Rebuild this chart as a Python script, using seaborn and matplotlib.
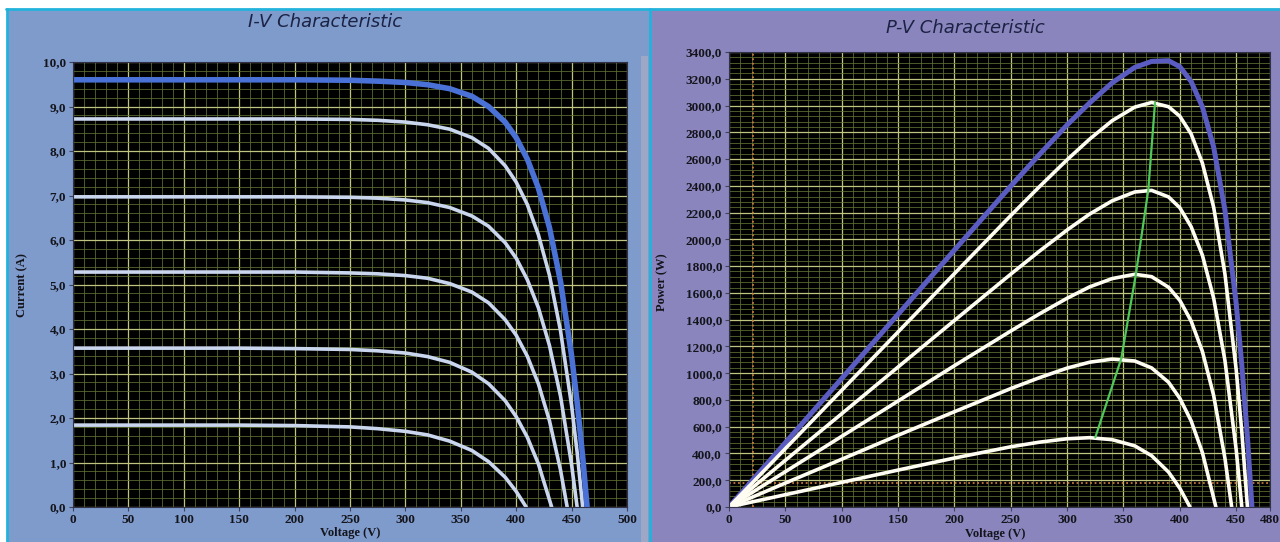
import matplotlib
matplotlib.use("Agg")
import matplotlib.pyplot as plt
import seaborn as sns
import pandas as pd
from matplotlib.patches import Rectangle
from matplotlib.lines import Line2D
from matplotlib.ticker import MultipleLocator, FixedLocator, FuncFormatter

# curves, highest irradiance first
v_c1 = [0, 20, 50, 100, 150, 200, 250, 275, 300, 320, 340, 360, 375, 390, 400, 410, 420, 430, 440, 450, 455, 460, 464]
i_c1 = [9.60, 9.60, 9.60, 9.60, 9.60, 9.60, 9.59, 9.57, 9.54, 9.49, 9.40, 9.23, 9.00, 8.65, 8.30, 7.82, 7.17, 6.28, 5.07, 3.40, 2.35, 1.13, 0.0]
p_c1 = [0, 192, 480, 960, 1440, 1920, 2398, 2630, 2855, 3020, 3170, 3285, 3330, 3335, 3290, 3180, 2990, 2690, 2220, 1520, 1060, 520, 0]

v_c2 = [0, 20, 50, 100, 150, 200, 250, 275, 300, 320, 340, 360, 375, 390, 400, 410, 420, 430, 440, 450, 455, 460]
i_c2 = [8.72, 8.72, 8.72, 8.72, 8.72, 8.72, 8.71, 8.69, 8.65, 8.59, 8.49, 8.30, 8.06, 7.67, 7.30, 6.80, 6.12, 5.21, 3.96, 2.28, 1.23, 0.0]
p_c2 = [0, 174, 436, 872, 1308, 1744, 2178, 2390, 2595, 2749, 2887, 2988, 3023, 2991, 2920, 2788, 2570, 2240, 1742, 1026, 560, 0]

v_c3 = [0, 20, 50, 100, 150, 200, 250, 275, 300, 320, 340, 360, 375, 390, 400, 410, 420, 430, 440, 450, 455]
i_c3 = [6.97, 6.97, 6.97, 6.97, 6.97, 6.97, 6.96, 6.94, 6.90, 6.84, 6.73, 6.54, 6.31, 5.94, 5.59, 5.11, 4.48, 3.63, 2.49, 0.95, 0.0]
p_c3 = [0, 139, 349, 697, 1046, 1394, 1740, 1909, 2070, 2189, 2288, 2354, 2366, 2317, 2236, 2095, 1882, 1561, 1096, 428, 0]

v_c4 = [0, 20, 50, 100, 150, 200, 250, 275, 300, 320, 340, 360, 375, 390, 400, 410, 420, 430, 440, 446]
i_c4 = [5.28, 5.28, 5.28, 5.28, 5.28, 5.28, 5.26, 5.24, 5.20, 5.14, 5.02, 4.83, 4.59, 4.21, 3.86, 3.39, 2.77, 1.94, 0.83, 0.0]
p_c4 = [0, 106, 264, 528, 792, 1056, 1315, 1441, 1560, 1645, 1707, 1739, 1721, 1642, 1544, 1390, 1163, 834, 365, 0]

v_c5 = [0, 20, 50, 100, 150, 200, 250, 275, 300, 320, 340, 360, 375, 390, 400, 410, 420, 432]
i_c5 = [3.57, 3.57, 3.57, 3.57, 3.57, 3.56, 3.54, 3.51, 3.46, 3.38, 3.25, 3.03, 2.77, 2.39, 2.03, 1.57, 0.97, 0.0]
p_c5 = [0, 71, 179, 357, 536, 712, 885, 965, 1038, 1082, 1105, 1091, 1039, 932, 812, 644, 407, 0]

v_c6 = [0, 20, 50, 100, 150, 200, 250, 275, 300, 320, 340, 360, 375, 390, 400, 409]
i_c6 = [1.84, 1.84, 1.84, 1.84, 1.84, 1.83, 1.80, 1.76, 1.70, 1.62, 1.48, 1.27, 1.02, 0.67, 0.35, 0.0]
p_c6 = [0, 37, 92, 184, 276, 366, 450, 484, 510, 518, 503, 457, 383, 261, 140, 0]

# maximum power point trace
mpp_v = [325, 348, 361, 372, 378]
mpp_p = [520, 1108, 1740, 2368, 3022]

iv_xticks = [0, 50, 100, 150, 200, 250, 300, 350, 400, 450, 500]
pv_xticks = [0, 50, 100, 150, 200, 250, 300, 350, 400, 450, 480]

W, H = 1280, 542

sns.set_style("ticks")

fig = plt.figure(figsize=(W / 100, H / 100), dpi=100, facecolor="white")


def px_rect(x0, y0, x1, y1, color, z=0):
    # y measured from the top of the image
    fig.add_artist(Rectangle((x0 / W, 1 - y1 / H), (x1 - x0) / W, (y1 - y0) / H,
                             transform=fig.transFigure, facecolor=color,
                             edgecolor="none", zorder=z))


def px_line(x0, y0, x1, y1, color, lw):
    fig.add_artist(Line2D([x0 / W, x1 / W], [1 - y0 / H, 1 - y1 / H],
                          transform=fig.transFigure, color=color, lw=lw, zorder=1))


# panel backgrounds
px_rect(8, 10, 650, 542, "#7e9bcb")
px_rect(651, 10, 1280, 542, "#8a86bd")
px_rect(641, 56, 648, 542, "#9ea8c6", z=0.5)
px_line(6, 9, 1280, 9, "#23b2dc", 2)
px_line(7, 9, 7, 542, "#23b2dc", 2)
px_line(650, 9, 650, 542, "#23b2dc", 2)

axL = fig.add_axes([73 / W, 1 - 507 / H, (627 - 73) / W, (507 - 62) / H])
axR = fig.add_axes([729 / W, 1 - 507 / H, (1270 - 729) / W, (507 - 52) / H])

tick_font = dict(family="Liberation Serif", weight="bold", size=9.5)
comma = FuncFormatter(lambda v, pos: f"{v:.1f}".replace(".", ","))

for ax in (axL, axR):
    ax.set_facecolor("black")
    ax.grid(which="minor", color="#617434", lw=0.6, alpha=0.9)
    ax.grid(which="major", color="#bfc57e", lw=0.9)
    ax.set_axisbelow(True)
    for s in ax.spines.values():
        s.set_color("#303048")
        s.set_linewidth(0.8)
    ax.tick_params(which="major", length=3, width=0.8, color="#404060", pad=2)
    ax.tick_params(which="minor", length=0)

# I-V characteristic
iv = [(v_c6, i_c6), (v_c5, i_c5), (v_c4, i_c4), (v_c3, i_c3), (v_c2, i_c2)]
for v, i in iv:
    sns.lineplot(x=v, y=i, ax=axL, color="#c9d6ee", lw=2.6, sort=False,
                 estimator=None, solid_capstyle="round")
sns.lineplot(x=v_c1, y=i_c1, ax=axL, color="#4a72d6", lw=4.0, sort=False,
             estimator=None, solid_capstyle="round")
axL.set_xlim(0, 500)
axL.set_ylim(0, 10)
axL.xaxis.set_major_locator(FixedLocator(iv_xticks))
axL.xaxis.set_minor_locator(MultipleLocator(10))
axL.yaxis.set_major_locator(MultipleLocator(1))
axL.yaxis.set_minor_locator(MultipleLocator(0.2))
axL.yaxis.set_major_formatter(comma)
axL.set_xlabel("")
axL.set_ylabel("")

# P-V characteristic
axR.axvline(21, color="#c8783c", lw=1.3, ls=(0, (1, 1.5)), zorder=1.5)
axR.axhline(178, color="#c8783c", lw=1.3, ls=(0, (1, 1.5)), zorder=1.5)
pv = [(v_c6, p_c6), (v_c5, p_c5), (v_c4, p_c4), (v_c3, p_c3), (v_c2, p_c2)]
sns.lineplot(x=v_c1, y=p_c1, ax=axR, color="#5a5cc2", lw=3.6, sort=False,
             estimator=None, solid_capstyle="round")
for v, p in pv:
    sns.lineplot(x=v, y=p, ax=axR, color="#fffdf2", lw=2.6, sort=False,
                 estimator=None, solid_capstyle="round")
sns.lineplot(x=mpp_v, y=mpp_p, ax=axR, color="#4fc85a", lw=1.6, sort=False,
             estimator=None)
axR.set_xlim(0, 480)
axR.set_ylim(0, 3400)
axR.xaxis.set_major_locator(FixedLocator(pv_xticks))
axR.xaxis.set_minor_locator(MultipleLocator(10))
axR.yaxis.set_major_locator(MultipleLocator(200))
axR.yaxis.set_minor_locator(MultipleLocator(40))
axR.yaxis.set_major_formatter(comma)
axR.set_xlabel("")
axR.set_ylabel("")

for ax in (axL, axR):
    for lab in ax.get_xticklabels() + ax.get_yticklabels():
        lab.set_fontproperties(tick_font)
        lab.set_color("#14141c")

title_font = dict(family="DejaVu Sans", style="italic", size=13, color="#1c2244")
fig.text(325 / W, 1 - 22 / H, "I-V Characteristic", ha="center", va="center", **title_font)
fig.text(965 / W, 1 - 28 / H, "P-V Characteristic", ha="center", va="center", **title_font)

label_font = dict(family="Liberation Serif", weight="bold", size=9, color="#14141c")
fig.text(22 / W, 1 - 285 / H, "Current (A)", rotation=90, ha="center", va="center", **label_font)
fig.text(662 / W, 1 - 282 / H, "Power (W)", rotation=90, ha="center", va="center", **label_font)
fig.text(350 / W, 1 - 533 / H, "Voltage (V)", ha="center", va="center", **label_font)
fig.text(995 / W, 1 - 534 / H, "Voltage (V)", ha="center", va="center", **label_font)

fig.savefig("out.png", dpi=100, facecolor="white")
